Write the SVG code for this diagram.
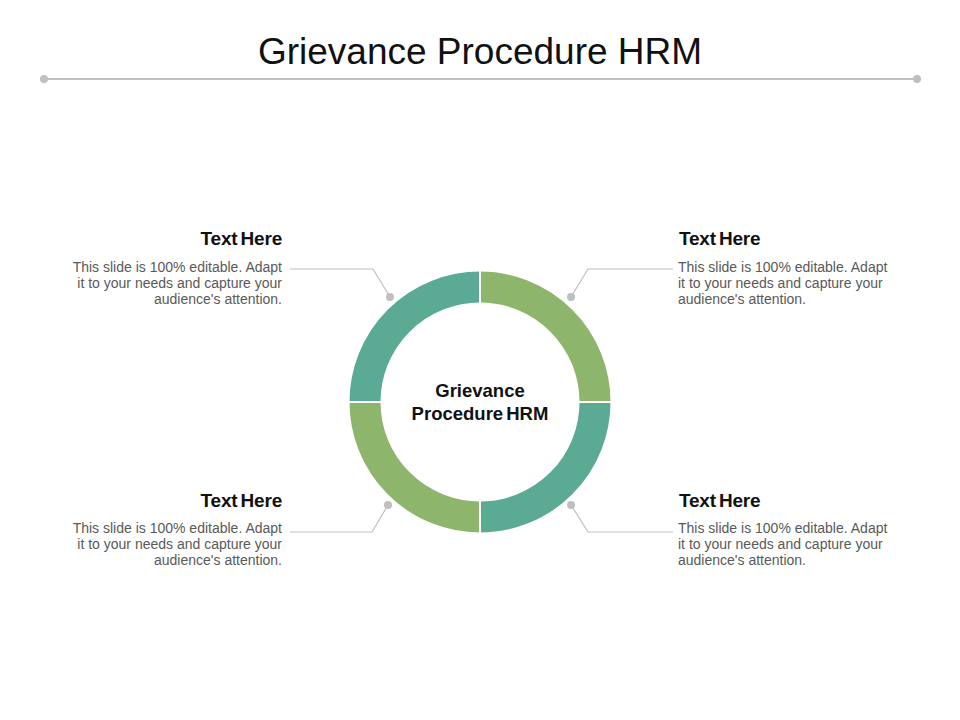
<svg xmlns="http://www.w3.org/2000/svg" width="960" height="720" viewBox="0 0 960 720">
<style>
.title{font-family:"Liberation Sans",Arial,sans-serif;font-size:37px;fill:#111;}
.head{font-family:"Liberation Sans",Arial,sans-serif;font-size:19px;font-weight:bold;fill:#111;word-spacing:-2px;letter-spacing:-0.2px;}
.body{font-family:"Liberation Sans",Arial,sans-serif;font-size:14px;fill:#595959;}
.center{font-family:"Liberation Sans",Arial,sans-serif;font-size:18.5px;font-weight:bold;fill:#111;text-anchor:middle;}
.conn{fill:none;stroke:#bfbfbf;stroke-width:1.2;}
.dot{fill:#bfbfbf;}
</style>
<rect width="960" height="720" fill="#fff"/>
<text class="title" x="480" y="64" text-anchor="middle">Grievance Procedure HRM</text>
<line x1="44" y1="79" x2="917" y2="79" stroke="#bfbfbf" stroke-width="2"/>
<circle class="dot" cx="44" cy="79" r="4"/>
<circle class="dot" cx="917" cy="79" r="4"/>
<g id="ring">
<path d="M480 287 A115 115 0 0 1 595 402" fill="none" stroke="#8db56c" stroke-width="31"/>
<path d="M595 402 A115 115 0 0 1 480 517" fill="none" stroke="#5baa93" stroke-width="31"/>
<path d="M480 517 A115 115 0 0 1 365 402" fill="none" stroke="#8db56c" stroke-width="31"/>
<path d="M365 402 A115 115 0 0 1 480 287" fill="none" stroke="#5baa93" stroke-width="31"/>
<line x1="480" y1="268" x2="480" y2="536" stroke="#fff" stroke-width="2"/>
<line x1="346" y1="402" x2="614" y2="402" stroke="#fff" stroke-width="2"/>
</g>
<g id="center">
<text class="center" x="480" y="397">Grievance</text>
<text class="center" x="480" y="420" word-spacing="-2">Procedure HRM</text>
</g>
<g id="connectors">
<polyline class="conn" points="290,269 373,269 390,297"/>
<circle class="dot" cx="390" cy="297" r="4"/>
<polyline class="conn" points="673,269 588,269 571,297"/>
<circle class="dot" cx="571" cy="297" r="4"/>
<polyline class="conn" points="290,532 372,532 388,505"/>
<circle class="dot" cx="388" cy="505" r="4"/>
<polyline class="conn" points="673,532 588,532 571,505"/>
<circle class="dot" cx="571" cy="505" r="4"/>
</g>
<g id="node-tl" text-anchor="end">
<text class="head" x="282" y="245">Text Here</text>
<text class="body" x="282" y="272">This slide is 100% editable. Adapt</text>
<text class="body" x="282" y="288">it to your needs and capture your</text>
<text class="body" x="282" y="304">audience's attention.</text>
</g>
<g id="node-tr">
<text class="head" x="679" y="245">Text Here</text>
<text class="body" x="678" y="272">This slide is 100% editable. Adapt</text>
<text class="body" x="678" y="288">it to your needs and capture your</text>
<text class="body" x="678" y="304">audience's attention.</text>
</g>
<g id="node-bl" text-anchor="end">
<text class="head" x="282" y="507">Text Here</text>
<text class="body" x="282" y="533">This slide is 100% editable. Adapt</text>
<text class="body" x="282" y="549">it to your needs and capture your</text>
<text class="body" x="282" y="565">audience's attention.</text>
</g>
<g id="node-br">
<text class="head" x="679" y="507">Text Here</text>
<text class="body" x="678" y="533">This slide is 100% editable. Adapt</text>
<text class="body" x="678" y="549">it to your needs and capture your</text>
<text class="body" x="678" y="565">audience's attention.</text>
</g>
</svg>
